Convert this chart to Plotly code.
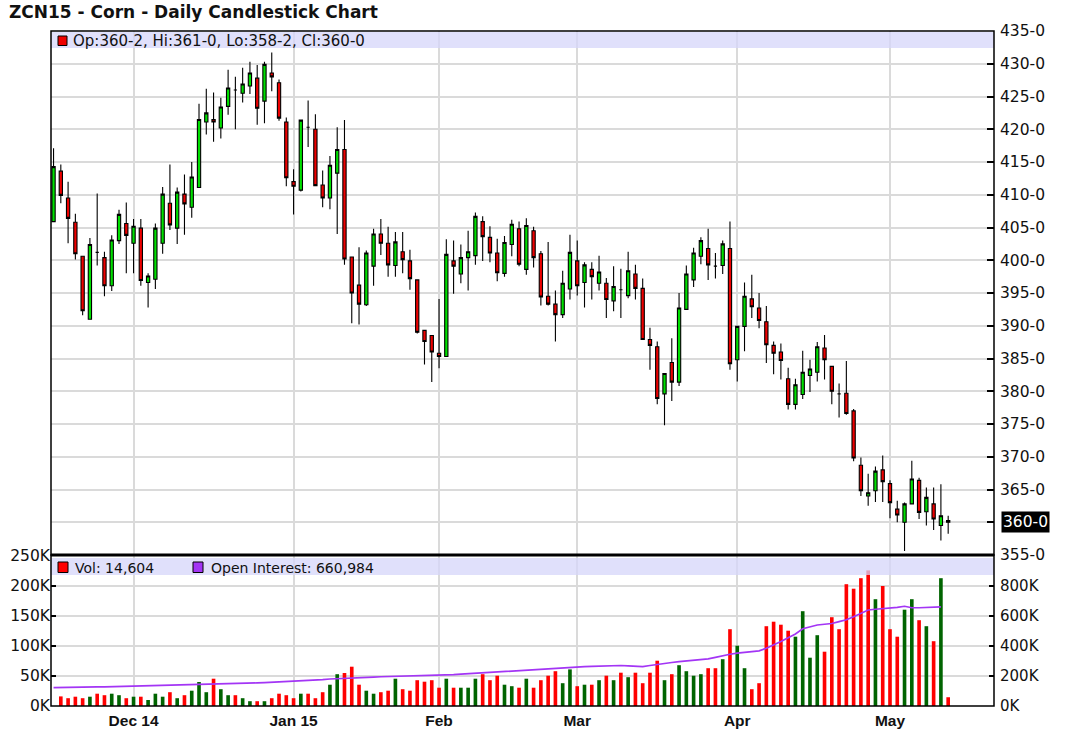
import plotly.graph_objects as go
import pandas as pd

# ---------------- data ----------------
holidays = ['2014-11-27', '2014-12-25', '2015-01-01', '2015-01-19', '2015-02-16', '2015-04-03']
dates = [d.strftime('%Y-%m-%d') for d in pd.bdate_range('2014-11-13', '2015-05-13')
         if d.strftime('%Y-%m-%d') not in holidays]

opens = [405.9, 413.6, 409.5, 405.8, 400.6, 391.0, 401.2, 400.4, 396.1, 403.0, 405.6,
         402.6, 404.9, 396.6, 397.1, 402.6, 408.7, 404.9, 410.1, 408.1, 411.1, 421.1, 421.5, 420.2, 423.5, 426.0,
         425.5, 426.6, 427.8, 424.3, 428.6, 427.1, 421.1,
         412.0, 410.7, 420.3, 420.0, 411.5, 409.5, 413.3, 416.9, 400.5, 396.2, 393.2, 399.1, 404.0, 402.6, 399.2,
         401.3, 399.9, 397.0, 389.3, 388.5,
         385.8, 385.3, 399.9, 397.9, 400.4, 400.7, 405.9, 403.5, 401.1, 398.0, 402.4, 404.8, 398.6, 404.5, 401.0,
         394.5, 393.3, 391.7, 395.6,
         399.9, 396.6, 398.6, 396.5, 396.5, 393.8, 395.5, 394.6, 397.9, 395.7, 387.9, 386.8, 379.6, 384.4, 381.4,
         392.5, 397.0, 400.6, 401.8, 399.1, 399.2, 401.8,
         384.8, 389.9, 394.1, 392.7, 390.6, 387.0, 386.0, 381.9, 378.0, 379.5, 382.4, 382.9, 386.6, 383.8, 379.6,
         379.7, 377.0, 368.7, 364.0, 364.8, 368.0,
         365.9, 362.0, 360.0, 362.8, 366.4, 361.6, 362.8, 359.5, 360.25]
highs = [417.1, 414.6, 412.0, 407.1, 400.6, 403.4, 410.2, 401.3, 403.8, 407.7, 408.8,
         406.3, 406.3, 398.0, 405.6, 411.2, 414.6, 411.1, 413.1, 415.0, 423.9, 426.2, 425.6, 424.8, 429.1, 428.0,
         429.4, 430.3, 429.8, 430.3, 431.7, 427.6, 421.8,
         413.9, 421.5, 424.4, 422.3, 413.7, 415.9, 420.3, 421.4, 400.5, 402.0, 401.5, 404.8, 406.3, 405.1, 404.3,
         404.3, 401.6, 397.0, 389.3, 388.5,
         394.1, 403.2, 403.0, 402.4, 404.5, 407.3, 406.7, 405.2, 403.3, 403.7, 406.2, 405.9, 406.4, 405.1, 401.4,
         402.8, 395.4, 398.4, 403.9,
         403.0, 399.7, 399.7, 400.7, 397.3, 399.1, 398.7, 401.3, 399.3, 397.2, 389.7, 387.6, 382.8, 388.1, 395.0,
         399.2, 401.9, 403.5, 404.8, 401.1, 403.0, 405.9,
         389.9, 396.6, 397.8, 395.0, 393.0, 387.6, 387.3, 383.6, 381.9, 386.2, 384.8, 387.5, 388.6, 383.8, 381.2,
         384.6, 377.3, 369.9, 367.4, 368.5, 370.2,
         366.4, 363.3, 363.0, 369.4, 366.8, 365.3, 365.3, 365.8, 361.0]
lows = [405.8, 408.7, 402.6, 400.1, 391.6, 391.0, 399.2, 394.5, 395.3, 402.5, 398.0,
        398.0, 396.1, 392.8, 395.6, 401.0, 404.6, 402.5, 403.9, 406.5, 411.1, 419.2, 418.1, 418.6, 422.2, 420.0,
        424.1, 425.4, 420.7, 420.9, 425.8, 421.3, 411.3,
        407.0, 410.5, 417.3, 411.3, 408.1, 407.8, 404.0, 399.3, 390.4, 390.2, 393.0, 396.1, 400.8, 397.5, 397.5,
        398.0, 395.5, 388.8, 384.1, 381.4,
        383.5, 385.3, 394.9, 396.5, 395.4, 399.3, 399.9, 399.7, 396.8, 397.5, 400.6, 399.1, 397.8, 398.9, 393.1,
        393.1, 387.6, 391.2, 394.0,
        394.6, 392.8, 394.0, 395.4, 391.2, 392.2, 391.2, 394.2, 394.0, 387.9, 383.3, 378.0, 374.8, 378.5, 380.8,
        392.5, 395.9, 399.4, 397.0, 397.2, 397.9, 383.3,
        381.5, 386.1, 391.2, 389.6, 384.3, 382.6, 381.8, 377.2, 377.2, 378.8, 379.9, 381.5, 381.8, 378.0, 376.0,
        376.4, 369.3, 364.0, 362.5, 363.1, 363.1,
        360.6, 360.0, 355.6, 362.8, 360.5, 359.5, 358.8, 357.2, 358.25]
closes = [414.3, 409.9, 406.4, 401.0, 392.3, 402.4, 401.2, 396.1, 403.1, 407.0, 403.8,
          405.2, 396.9, 397.6, 404.9, 410.1, 405.4, 410.4, 408.6, 412.7, 421.5, 422.5, 421.1, 423.4, 426.3, 426.0,
          426.9, 428.6, 423.2, 429.9, 428.0, 421.7, 412.6,
          411.3, 421.4, 420.3, 411.4, 409.5, 414.5, 416.9, 400.2, 395.0, 393.3, 401.1, 404.0, 402.6, 399.3, 402.8,
          400.1, 397.2, 389.0, 387.6, 386.0,
          385.3, 400.9, 399.1, 400.4, 401.3, 406.7, 403.6, 401.1, 398.1, 402.7, 405.5, 399.4, 405.3, 400.4, 394.4,
          393.3, 391.7, 396.5, 401.2,
          396.1, 399.3, 397.5, 398.2, 394.0, 396.0, 395.5, 398.4, 395.7, 387.9, 387.0, 378.9, 382.7, 381.4, 392.7,
          397.9, 401.1, 403.0, 399.3, 399.1, 402.5, 384.2,
          389.9, 394.5, 392.9, 390.8, 387.1, 385.8, 384.7, 378.0, 381.0, 382.9, 383.4, 386.8, 384.8, 380.0, 379.6,
          376.6, 369.8, 364.8, 364.5, 367.8, 366.2,
          363.0, 361.1, 362.8, 366.6, 361.5, 363.8, 360.5, 361.0, 360.0]

# volume in thousands of contracts (first day not shown)
volume_k = [None, 16, 13, 15.5, 13, 15.5, 20.5, 18, 20.5, 18, 13,
            15.5, 15.5, 10, 20.5, 15.5, 23, 13, 18, 25.5, 40, 23, 45.5, 28, 18, 18, 13, 8, 8, 8, 13, 20.5, 18,
            13, 20.5, 20.5, 13, 23, 35.5, 53, 55, 65.5, 35.5, 25.5, 20.5, 23, 25.5, 45.5, 28, 25.5, 43, 40.5, 43,
            30.5, 45.5, 30.5, 30.5, 30.5, 45.5, 53, 43, 50.5, 35.5, 33, 30.5, 45.5, 30.5, 43, 50.5, 58, 38, 61,
            33, 35.5, 35.5, 43, 50.5, 43, 55.5, 48, 55.5, 38, 55.5, 75.5, 43, 53, 68, 58, 50.5, 53, 63, 63, 78, 128,
            100.5, 63, 28, 38, 133, 140.5, 135.5, 125.5, 115.5, 158, 80.5, 118, 90.5, 148, 128, 203, 195.5, 213,
            226, 178, 200,
            128, 115.5, 160.5, 178, 143, 133, 108, 213, 14.604]

# open interest in thousands of contracts (last day not yet reported)
open_interest_k = [122, 122, 123, 124, 125, 126, 127, 128, 129, 130, 131,
                   133, 134, 135, 136, 137, 138, 139, 140, 141, 142, 143, 145, 147, 149, 150, 152, 153, 154, 156,
                   158, 160, 163,
                   167, 169, 171, 173, 176, 180, 183, 185, 187, 189, 191, 193, 195, 196, 197, 198, 199, 200, 201, 203,
                   204, 206, 209, 212, 215, 219, 223, 227, 230, 233, 236, 239, 242, 245, 248, 251, 254, 256, 258,
                   260, 262, 264, 266, 268, 269, 270, 268, 266, 262, 270, 278, 284, 290, 296, 300, 304, 308, 314, 324,
                   336, 345,
                   353, 357, 362, 368, 385, 405, 430, 455, 480, 515, 530, 540, 545, 550, 562, 575, 595, 615, 640,
                   645, 648,
                   650, 658, 665, 655, 655, 658, 660, 660.984, None]

month_ticks = ['2014-12-01', '2015-01-02', '2015-02-02', '2015-03-02', '2015-04-01', '2015-05-01']
month_labels = ['Dec 14', 'Jan 15', 'Feb', 'Mar', 'Apr', 'May']
price_ticks = list(range(355, 440, 5))
vol_ticks = [0, 50, 100, 150, 200, 250]
oi_ticks = [0, 200, 400, 600, 800]

# ---------------- helpers ----------------
def eighths(v):
    whole = int(v)
    return f"{whole}-{int(round((v - whole) * 8))}"

vol_colors = []
for i, v in enumerate(volume_k):
    if i == 0:
        vol_colors.append('#ff0000')
    else:
        vol_colors.append('#006400' if closes[i] >= closes[i - 1] else '#ff0000')

last_close_label = eighths(closes[-1])
price_ticktext = [f"{v}-0" for v in price_ticks]
price_ticktext = ['' if t == last_close_label else t for t in price_ticktext]  # shown in highlight box

# target pixel layout (page coordinates)
L, R, T, B = 51, 994, 31, 706
W, H = R - L, B - T
def px(p):
    return (p - L) / W
def py(p):
    return (B - p) / H

split = py(555)
FONT = 'DejaVu Sans, Verdana, sans-serif'
BFONT = 'Liberation Sans, Arial, sans-serif'
GRID = '#dadada'

fig = go.Figure()
fig.add_trace(go.Candlestick(
    x=dates, open=opens, high=highs, low=lows, close=closes,
    xaxis='x', yaxis='y', whiskerwidth=0,
    increasing=dict(line=dict(color='black', width=1.1), fillcolor='#00e000'),
    decreasing=dict(line=dict(color='black', width=1.1), fillcolor='#ee0000'),
    showlegend=False))
fig.add_trace(go.Bar(
    x=dates, y=volume_k, marker=dict(color=vol_colors, line=dict(width=0)), width=0.5,
    xaxis='x2', yaxis='y2', showlegend=False))
fig.add_trace(go.Scatter(
    x=dates, y=open_interest_k, mode='lines', line=dict(color='#a335f5', width=1.7),
    xaxis='x2', yaxis='y3', showlegend=False, connectgaps=False))

xr = [-0.35, 129.3]
common_x = dict(type='category', range=xr, tickvals=month_ticks, ticktext=month_labels,
                showgrid=True, gridcolor=GRID, gridwidth=1.5, zeroline=False, showline=False,
                ticks='', fixedrange=True, automargin=False)

fig.update_layout(
    width=1080, height=747,
    margin=dict(l=L, r=1080 - R, t=T, b=747 - B, autoexpand=False),
    paper_bgcolor='white', plot_bgcolor='white',
    boxgap=0.36,
    xaxis=dict(**common_x, anchor='y', showticklabels=False, rangeslider=dict(visible=False)),
    xaxis2=dict(**common_x, anchor='y2', matches='x', showticklabels=True, ticklabelstandoff=3,
                tickfont=dict(family=BFONT, size=15.5, color='#111', weight='bold')),
    yaxis=dict(domain=[split, 1], range=[354.999, 435.001], side='right', anchor='x',
               tickvals=price_ticks, ticktext=price_ticktext,
               ticks='inside', ticklen=7, tickcolor='black', tickwidth=1.5, ticklabelstandoff=5,
               showgrid=True, gridcolor=GRID, gridwidth=1.5, zeroline=False, automargin=False,
               fixedrange=True, tickfont=dict(family=FONT, size=15.5, color='#111')),
    yaxis2=dict(domain=[0, py(556)], range=[0, 250], side='left', anchor='x2',
                tickvals=vol_ticks, ticktext=[f"{v}K" for v in vol_ticks],
                ticks='inside', ticklen=5, tickcolor='black', tickwidth=1.5,
                showgrid=True, gridcolor=GRID, gridwidth=1.5, zeroline=False, automargin=False,
                fixedrange=True, tickfont=dict(family=FONT, size=15.5, color='#111')),
    yaxis3=dict(overlaying='y2', range=[0, 1000], side='right', anchor='x2',
                tickvals=oi_ticks, ticktext=[f"{v}K" for v in oi_ticks],
                ticks='inside', ticklen=5, tickcolor='black', tickwidth=1.5, ticklabelstandoff=5,
                showgrid=False, zeroline=False, automargin=False,
                fixedrange=True, tickfont=dict(family=FONT, size=15, color='#111')),
)

shapes = [
    # legend bands
    dict(type='rect', xref='paper', yref='paper', x0=0, x1=1, y0=py(48), y1=py(32),
         fillcolor='rgba(214,214,250,0.75)', line=dict(width=0), layer='above'),
    dict(type='rect', xref='paper', yref='paper', x0=0, x1=1, y0=py(575), y1=py(558),
         fillcolor='rgba(214,214,250,0.75)', line=dict(width=0), layer='above'),
    # frames
    dict(type='rect', xref='paper', yref='paper', x0=0, x1=1, y0=split, y1=1,
         line=dict(color='black', width=1.5), layer='above'),
    dict(type='rect', xref='paper', yref='paper', x0=0, x1=1, y0=0, y1=split,
         line=dict(color='black', width=1.5), layer='above'),
    dict(type='line', xref='paper', yref='paper', x0=0, x1=1, y0=split, y1=split,
         line=dict(color='black', width=3), layer='above'),
    # legend swatches
    dict(type='rect', xref='paper', yref='paper', x0=px(58), x1=px(67), y0=py(45.5), y1=py(36),
         fillcolor='#ee0000', line=dict(color='black', width=1), layer='above'),
    dict(type='rect', xref='paper', yref='paper', x0=px(58), x1=px(68), y0=py(572.5), y1=py(562),
         fillcolor='#ff0000', line=dict(color='black', width=1), layer='above'),
    dict(type='rect', xref='paper', yref='paper', x0=px(193), x1=px(203), y0=py(572.5), y1=py(562),
         fillcolor='#a335f5', line=dict(color='black', width=1), layer='above'),
]
fig.update_layout(shapes=shapes)

last_vol = int(round(volume_k[-1] * 1000))
last_oi = int(round([v for v in open_interest_k if v is not None][-1] * 1000))
annotations = [
    dict(xref='paper', yref='paper', x=px(7), y=py(12), xanchor='left', yanchor='middle',
         text='<b>ZCN15 - Corn - Daily Candlestick Chart</b>', showarrow=False,
         font=dict(family=FONT, size=17, color='#111')),
    dict(xref='paper', yref='paper', x=px(71), y=py(40.5), xanchor='left', yanchor='middle',
         text=f"Op:{eighths(opens[-1])}, Hi:{eighths(highs[-1])}, Lo:{eighths(lows[-1])}, Cl:{eighths(closes[-1])}",
         showarrow=False, font=dict(family=FONT, size=15, color='#111')),
    dict(xref='paper', yref='paper', x=px(73), y=py(567.5), xanchor='left', yanchor='middle',
         text=f"Vol: {last_vol:,}", showarrow=False, font=dict(family=FONT, size=14, color='#111')),
    dict(xref='paper', yref='paper', x=px(209), y=py(567.5), xanchor='left', yanchor='middle',
         text=f"Open Interest: {last_oi:,}", showarrow=False, font=dict(family=FONT, size=14, color='#111')),
    dict(xref='paper', yref='y', x=1, y=closes[-1], xanchor='left', yanchor='middle', xshift=7,
         text=last_close_label, showarrow=False, bgcolor='black', borderpad=1,
         font=dict(family=FONT, size=15.5, color='white')),
]
fig.update_layout(annotations=annotations)

# remove the browser's default page margin so the figure sits at the window's corner
fig.write_html('out.html', config={'displayModeBar': False},
               post_script="document.body.style.margin='0';")
